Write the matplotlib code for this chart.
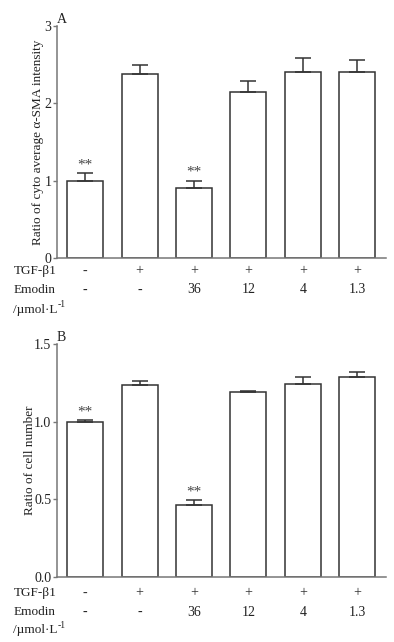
import matplotlib
matplotlib.use('Agg')
import matplotlib.pyplot as plt
import numpy as np

plt.rcParams['font.family'] = ['Liberation Serif', 'DejaVu Serif']

tgf = ['-', '+', '+', '+', '+', '+']
emodin = ['-', '-', '36', '12', '4', '1.3']

# panel A: cyto average alpha-SMA intensity ratio
sma_mean = [1.00, 2.38, 0.90, 2.15, 2.41, 2.40]
sma_err = [0.095, 0.11, 0.10, 0.135, 0.18, 0.155]
sma_sig = ['**', '', '**', '', '', '']

# panel B: cell number ratio
cell_mean = [1.00, 1.238, 0.463, 1.19, 1.244, 1.285]
cell_err = [0.008, 0.021, 0.032, 0.005, 0.043, 0.032]
cell_sig = ['**', '', '**', '', '', '']

W, H = 394, 642
fig = plt.figure(figsize=(W / 100, H / 100), dpi=100)

axis_col = '#777777'
edge_col = '#333333'
txt_col = '#222222'
unit_texts = []


def panel(top, bottom, means, errs, sig, ymax, yticks, yticklabels, ylabel, letter, rows, lpad):
    left, right = 57, 386
    ax = fig.add_axes([left / W, 1 - bottom / H, (right - left) / W, (bottom - top) / H])
    x = np.arange(len(means))
    ax.bar(x, means, width=0.66, color='white', edgecolor=edge_col, linewidth=1.1, zorder=2)
    ax.errorbar(x, means, yerr=[np.zeros(len(errs)), errs], fmt='none',
                ecolor=edge_col, elinewidth=1.1, capsize=6, capthick=1.1, zorder=3)
    for xi, m, e, s in zip(x, means, errs, sig):
        if s:
            ax.text(xi, m + e + ymax * 0.008, s, ha='center', va='bottom',
                    fontsize=11, color='#444444')
    ax.set_xlim(-0.52, 5.53)
    ax.set_ylim(0, ymax)
    ax.set_yticks(yticks)
    ax.set_yticklabels(yticklabels, fontsize=10, color=txt_col)
    ax.set_xticks([])
    for side in ['top', 'right']:
        ax.spines[side].set_visible(False)
    for side in ['left', 'bottom']:
        ax.spines[side].set_color(axis_col)
        ax.spines[side].set_linewidth(1.1)
    ax.tick_params(axis='y', direction='out', length=3, width=1, color=axis_col, pad=1)
    ax.set_ylabel(ylabel, fontsize=9.5, color=txt_col, labelpad=lpad)
    ax.text(0.0, 1.0, letter, transform=ax.transAxes, ha='left', va='bottom',
            fontsize=10, color=txt_col)

    # treatment rows under the axis
    h = bottom - top
    for xi, t, e in zip(x, tgf, emodin):
        ax.text(xi, (bottom - rows[0]) / h, t, transform=ax.get_xaxis_transform(),
                ha='center', va='center', fontsize=10, color='#333333', clip_on=False)
        ax.text(xi, (bottom - rows[1]) / h, e, transform=ax.get_xaxis_transform(),
                ha='center', va='center', fontsize=10, color=txt_col, clip_on=False)
    fig.text(14 / W, 1 - rows[0] / H, 'TGF-β1', ha='left', va='center', fontsize=9.5, color=txt_col)
    fig.text(14 / W, 1 - rows[1] / H, 'Emodin', ha='left', va='center', fontsize=9.5, color=txt_col)
    u = fig.text(13 / W, 1 - rows[2] / H, '/µmol·L', ha='left', va='center', fontsize=9.5, color=txt_col)
    unit_texts.append(u)
    return ax


panel(26, 258, sma_mean, sma_err, sma_sig, 3, [0, 1, 2, 3], ['0', '1', '2', '3'],
      'Ratio of cyto average α-SMA intensity', 'A', (271, 290, 310), 0)

panel(344, 577, cell_mean, cell_err, cell_sig, 1.5, [0, 0.5, 1.0, 1.5], ['0.0', '0.5', '1.0', '1.5'],
      'Ratio of cell number', 'B', (593, 612, 630), -1)

# superscript -1 after the unit text
fig.canvas.draw()
r = fig.canvas.get_renderer()
for u in unit_texts:
    bb = u.get_window_extent(r)
    fig.text((bb.x1 + 0.5) / W, (bb.y1 - 1) / H, '-1', ha='left', va='center',
             fontsize=7, color=txt_col)

fig.savefig('out.png', dpi=100)
plt.close()
